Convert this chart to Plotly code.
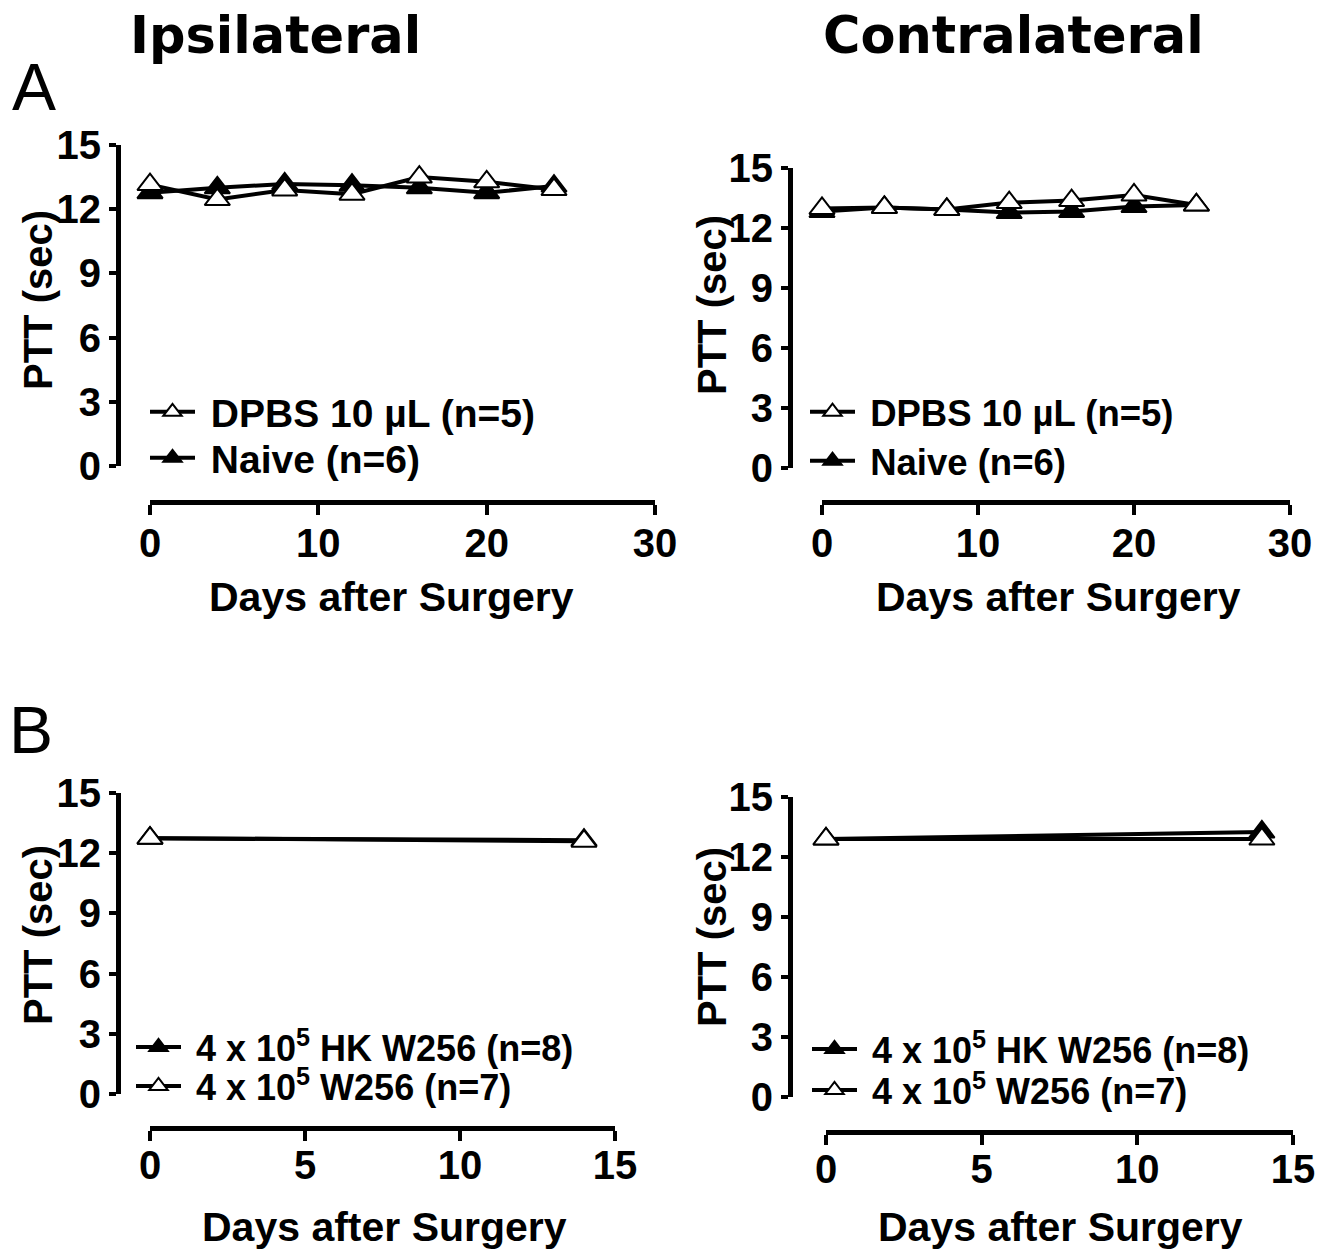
import plotly.graph_objects as go

W, H = 1330, 1250

def fx(px):
    return px / W

def fy(py):
    return 1 - py / H

# ---------------- data ----------------
days_A = [0, 4, 8, 12, 16, 20, 24]
ipsi_dpbs = [13.15, 12.45, 12.9, 12.7, 13.5, 13.28, 12.92]
ipsi_naive = [12.77, 13.0, 13.18, 13.12, 13.0, 12.77, 13.08]
contra_dpbs = [12.98, 13.03, 12.93, 13.27, 13.37, 13.65, 13.15]
contra_naive = [12.82, 13.03, 12.93, 12.77, 12.82, 13.07, 13.15]

days_B = [0, 14]
ipsi_hk = [12.75, 12.65]
ipsi_w256 = [12.75, 12.6]
contra_hk = [12.9, 13.25]
contra_w256 = [12.9, 12.9]

y_ticks = [0, 3, 6, 9, 12, 15]
xA_ticks = [0, 10, 20, 30]
xB_ticks = [0, 5, 10, 15]

NB = "\u00a0"
lab_dpbs = NB + "DPBS 10 µL (n=5)"
lab_naive = NB + "Naive (n=6)"
lab_hk = NB + "4 x 10<sup>5</sup> HK W256 (n=8)"
lab_w256 = NB + "4 x 10<sup>5</sup> W256 (n=7)"

FONT = "Liberation Sans, Arial, sans-serif"

fig = go.Figure()

def add(x, y, name, filled, xa, ya, leg):
    fig.add_trace(go.Scatter(
        x=x, y=y, name=name, mode="lines+markers",
        xaxis=xa, yaxis=ya, legend=leg,
        line=dict(color="black", width=4),
        marker=dict(symbol="triangle-up", size=22,
                    color="black" if filled else "white",
                    line=dict(color="black", width=2)),
        cliponaxis=False,
    ))

# Panel A left
add(days_A, ipsi_naive, lab_naive, True, "x", "y", "legend2")
add(days_A, ipsi_dpbs, lab_dpbs, False, "x", "y", "legend")
# Panel A right
add(days_A, contra_naive, lab_naive, True, "x2", "y2", "legend4")
add(days_A, contra_dpbs, lab_dpbs, False, "x2", "y2", "legend3")
# Panel B left
add(days_B, ipsi_hk, lab_hk, True, "x3", "y3", "legend5")
add(days_B, ipsi_w256, lab_w256, False, "x3", "y3", "legend6")
# Panel B right
add(days_B, contra_hk, lab_hk, True, "x4", "y4", "legend7")
add(days_B, contra_w256, lab_w256, False, "x4", "y4", "legend8")

tickfont = dict(family=FONT, size=40, color="black", weight="bold")

def xaxis(dom, pos, rng, ticks, standoff):
    return dict(domain=[fx(dom[0]), fx(dom[1])], anchor="free", position=fy(pos),
                range=rng, tickvals=ticks, ticks="outside", ticklen=10, tickwidth=4,
                tickcolor="black", showline=True, linewidth=5, linecolor="black",
                showgrid=False, zeroline=False, tickfont=tickfont, fixedrange=True,
                ticklabelstandoff=standoff)

def yaxis(dom, pos):
    return dict(domain=[fy(dom[0]), fy(dom[1])], anchor="free", position=fx(pos),
                range=[0, 15], tickvals=y_ticks, ticks="outside", ticklen=7, tickwidth=4,
                tickcolor="black", showline=True, linewidth=5, linecolor="black",
                showgrid=False, zeroline=False, tickfont=tickfont, fixedrange=True)

def legend(x, y, size):
    return dict(x=fx(x), y=fy(y), xanchor="left", yanchor="middle",
                font=dict(family=FONT, size=size, color="black", weight="bold"),
                bgcolor="rgba(0,0,0,0)", tracegroupgap=0, itemwidth=45)

fig.update_layout(
    width=W, height=H, margin=dict(l=0, r=0, t=0, b=0, autoexpand=False),
    paper_bgcolor="white", plot_bgcolor="white", showlegend=True,
    xaxis=xaxis([150, 655], 502, [0, 30], xA_ticks, -6),
    yaxis=yaxis([466, 145], 118),
    xaxis2=xaxis([822, 1290], 502, [0, 30], xA_ticks, -6),
    yaxis2=yaxis([468, 168], 790),
    xaxis3=xaxis([150, 615], 1128, [0, 15], xB_ticks, -10),
    yaxis3=yaxis([1094, 793], 118),
    xaxis4=xaxis([826, 1293], 1132, [0, 15], xB_ticks, -10),
    yaxis4=yaxis([1097, 797], 790),
    legend=legend(145, 412, 39),
    legend2=legend(145, 458, 39),
    legend3=legend(805, 412, 36.5),
    legend4=legend(805, 461, 36.5),
    legend5=legend(131, 1047, 36),
    legend6=legend(131, 1086, 36),
    legend7=legend(807, 1049, 36),
    legend8=legend(807, 1090, 36),
)

ann = []
def text(x, y, s, size, family=FONT, weight="bold", angle=0):
    ann.append(dict(x=fx(x), y=fy(y), xref="paper", yref="paper", text=s,
                    showarrow=False, xanchor="center", yanchor="middle",
                    textangle=angle,
                    font=dict(family=family, size=size, color="black", weight=weight)))

text(275, 35, "Ipsilateral", 51, family="DejaVu Sans")
text(1013, 35, "Contralateral", 51, family="DejaVu Sans")
text(34, 87, "A", 66, weight="normal")
text(31, 730, "B", 66, weight="normal")
text(392, 597, "Days after Surgery", 41)
text(1058, 597, "Days after Surgery", 41)
text(384, 1227, "Days after Surgery", 41)
text(1060, 1227, "Days after Surgery", 41)
text(38, 300, "PTT (sec)", 40, angle=-90)
text(712, 305, "PTT (sec)", 40, angle=-90)
text(38, 935, "PTT (sec)", 40, angle=-90)
text(712, 937, "PTT (sec)", 40, angle=-90)
fig.update_layout(annotations=ann)

fig.write_html("out.html", config={"displayModeBar": False})
